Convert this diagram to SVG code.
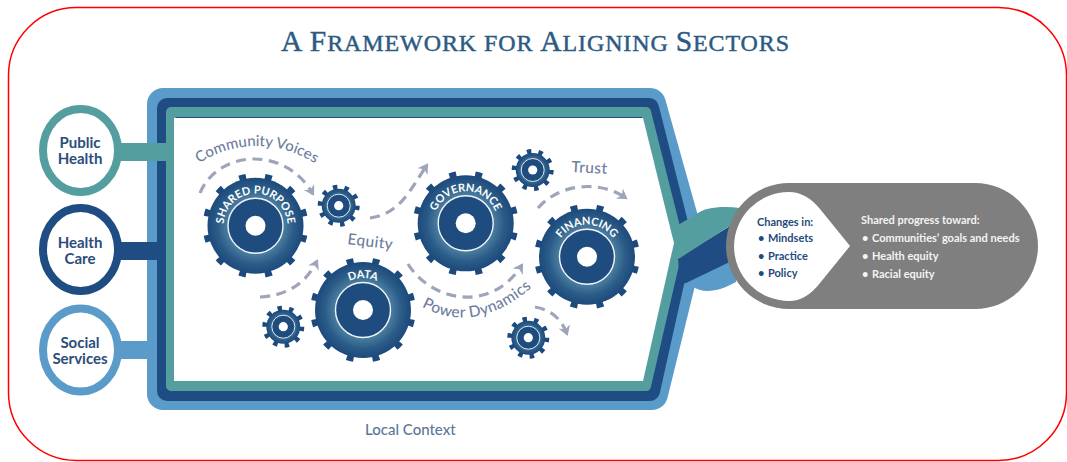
<svg xmlns="http://www.w3.org/2000/svg" width="1067" height="462" viewBox="0 0 1067 462">
<style>
text{font-family:"Lato","Open Sans","Liberation Sans",sans-serif}
.dash{fill:none;stroke:#9ea5ba;stroke-width:3.2;stroke-dasharray:10 6.5;marker-end:url(#arrow)}
.flow{font-size:15.5px;font-weight:500;fill:#6d7e9c;letter-spacing:.4px}
.node{font-size:15px;font-weight:700;fill:#2b4d7a;text-anchor:middle}
.gearlabel{font-size:11px;font-weight:700;fill:#fff;text-anchor:middle}
.navy{font-size:11px;font-weight:700;fill:#1f4a7d}
.wht{font-size:11px;font-weight:700;fill:#f4f4f4}
#title{font-family:"Liberation Serif","Times New Roman",serif;font-size:24px;fill:#2b5a82;stroke:#2b5a82;stroke-width:.45px;letter-spacing:.9px}
#title .c{font-size:29.5px}
.ring{fill:#fff;stroke-width:8}
</style>
<defs>
<marker id="arrow" markerUnits="userSpaceOnUse" markerWidth="14" markerHeight="14" refX="8" refY="6" orient="auto"><path d="M0 0L10 6L0 12L3 6Z" fill="#9ea5ba"/></marker>
<radialGradient id="gg"><stop offset=".55" stop-color="#4f83a3"/><stop offset=".8" stop-color="#2b5c88"/><stop offset="1" stop-color="#1c4a7c"/></radialGradient>
<g id="big">
<circle r="49.5" fill="none" stroke="#1c4a7c" stroke-width="6.5" pathLength="12" stroke-dasharray=".27 .73" stroke-dashoffset="-.365"/>
<circle r="48" fill="url(#gg)"/>
<circle r="27.5" fill="#1e4c7e" stroke="#f2f5f7" stroke-width="1.4"/>
<circle r="10" fill="#fff"/>
</g>
<g id="small">
<circle r="18.5" fill="none" stroke="#1c4a7c" stroke-width="5" pathLength="10" stroke-dasharray=".38 .62"/>
<circle r="17" fill="url(#gg)"/>
<circle r="11.5" fill="#1e4c7e" stroke="#dfe8ee" stroke-width="1"/>
<circle r="4.6" fill="#fff"/>
</g>
<path id="pSP" d="M223.5 225.7A32 32 0 0 1 287.5 225.7"/>
<path id="pDA" d="M331 310A32 32 0 0 1 395 310"/>
<path id="pGO" d="M433.7 223.3A32 32 0 0 1 497.7 223.3"/>
<path id="pFI" d="M555 256.7A32 32 0 0 1 619 256.7"/>
<path id="pCV" d="M157 219A105 105 0 0 1 357 219"/>
<path id="pPD" d="M408 298Q474 346 544 276"/>
</defs>
<rect x="8.500" y="7.500" width="1058" height="453" rx="68" ry="68" fill="#fff" stroke="#f00" stroke-width="1.500"/>
<text id="title" x="281" y="51"><tspan class="c">A F</tspan>RAMEWORK FOR <tspan class="c">A</tspan>LIGNING <tspan class="c">S</tspan>ECTORS</text>

<g id="frame" fill="none" stroke-linejoin="round">
<path d="M163 104H650L689 243L652 394H163Z" stroke="#5b9bc9" stroke-width="32" fill="#5b9bc9"/>
<path d="M167 108H649L683 243L650 391H167Z" stroke="#1f4c83" stroke-width="20"/>
<path d="M171 112H646L679 243L646 386H171Z" stroke="#559e9f" stroke-width="10"/>
</g>
<g id="junction">
<path d="M692 286C703 294 718 292 736 282V250L690 268Z" fill="#5b9bc9"/>
<path d="M678 258L730 226H738V258L686 283L680 284Z" fill="#1f4c83"/>
<path d="M678 225L695 215C705 207 722 206 740 208V227H728L680 258L672 262L672 238Z" fill="#559e9f"/>
</g>
<path id="interior" d="M174 118H643L674 243L643 381H174Z" fill="#fff"/>

<g id="connectors">
<rect x="118" y="143" width="56" height="18" fill="#559e9f"/>
<rect x="118" y="242" width="40" height="18" fill="#1f4c83"/>
<rect x="118" y="341" width="30" height="18" fill="#5b9bc9"/>
<path class="dash" d="M200 193C218 150 285 145 313 194"/>
<path class="dash" d="M260 297Q300 295 317 261"/>
<path class="dash" d="M370 218C400 214 410 190 427 165"/>
<path class="dash" d="M408 264C430 300 490 315 522 265"/>
<path class="dash" d="M538 208C560 183 600 180 626 198"/>
<path class="dash" d="M535 307C552 310 562 320 567 334"/>
</g>

<g id="public-health"><ellipse class="ring" cx="80.500" cy="150.500" rx="37.500" ry="41.500" stroke="#559e9f"/><text class="node" x="80" y="148">Public</text><text class="node" x="80" y="164">Health</text></g>
<g id="health-care"><ellipse class="ring" cx="80.500" cy="249.500" rx="37.500" ry="41.500" stroke="#1f4c83"/><text class="node" x="80" y="248">Health</text><text class="node" x="80" y="264">Care</text></g>
<g id="social-services"><ellipse class="ring" cx="80.500" cy="350" rx="37.500" ry="41.500" stroke="#5b9bc9"/><text class="node" x="80" y="348">Social</text><text class="node" x="80" y="364">Services</text></g>

<g id="gear-shared-purpose"><use href="#big" x="255.500" y="225.700"/><text class="gearlabel"><textPath href="#pSP" startOffset="50%">SHARED PURPOSE</textPath></text></g>
<g id="gear-data"><use href="#big" x="363" y="310"/><text class="gearlabel"><textPath href="#pDA" startOffset="50%">DATA</textPath></text></g>
<g id="gear-governance"><use href="#big" x="465.700" y="223.300"/><text class="gearlabel"><textPath href="#pGO" startOffset="50%">GOVERNANCE</textPath></text></g>
<g id="gear-financing"><use href="#big" x="587" y="256.700"/><text class="gearlabel"><textPath href="#pFI" startOffset="50%">FINANCING</textPath></text></g>
<g id="gear-small-1"><use href="#small" x="338.700" y="205.700"/></g>
<g id="gear-small-2"><use href="#small" x="283.300" y="326.700"/></g>
<g id="gear-small-3"><use href="#small" x="532.700" y="170"/></g>
<g id="gear-small-4"><use href="#small" x="528.300" y="337.700"/></g>

<g id="flow-labels">
<text class="flow" text-anchor="middle" style="font-size:15px;letter-spacing:0"><textPath href="#pCV" startOffset="50%">Community Voices</textPath></text>
<text class="flow" text-anchor="middle"><textPath href="#pPD" startOffset="50%">Power Dynamics</textPath></text>
<text class="flow" x="347" y="244" transform="rotate(7 347 244)">Equity</text>
<text class="flow" x="571" y="172" transform="rotate(3 571 172)">Trust</text>
</g>
<text id="local-context" x="365" y="435" font-size="15" font-weight="500" fill="#5b7897">Local Context</text>

<g id="outcomes">
<rect x="726" y="183" width="312" height="126" rx="63" fill="#7f7f7f"/>
<path d="M850 246L820 209Q806 192 789 192A55 54.500 0 0 0 789 301Q806 301 820 283Z" fill="#fff"/>
<text class="navy" x="757" y="226">Changes in:</text>
<text class="navy" x="758" y="242">•</text><text class="navy" x="768" y="242">Mindsets</text>
<text class="navy" x="758" y="260">•</text><text class="navy" x="768" y="260">Practice</text>
<text class="navy" x="758" y="277">•</text><text class="navy" x="768" y="277">Policy</text>
<text class="wht" x="861" y="224">Shared progress toward:</text>
<text class="wht" x="862" y="242">•</text><text class="wht" x="872" y="242">Communities’ goals and needs</text>
<text class="wht" x="862" y="260">•</text><text class="wht" x="872" y="260">Health equity</text>
<text class="wht" x="862" y="278">•</text><text class="wht" x="872" y="278">Racial equity</text>
</g>
</svg>
